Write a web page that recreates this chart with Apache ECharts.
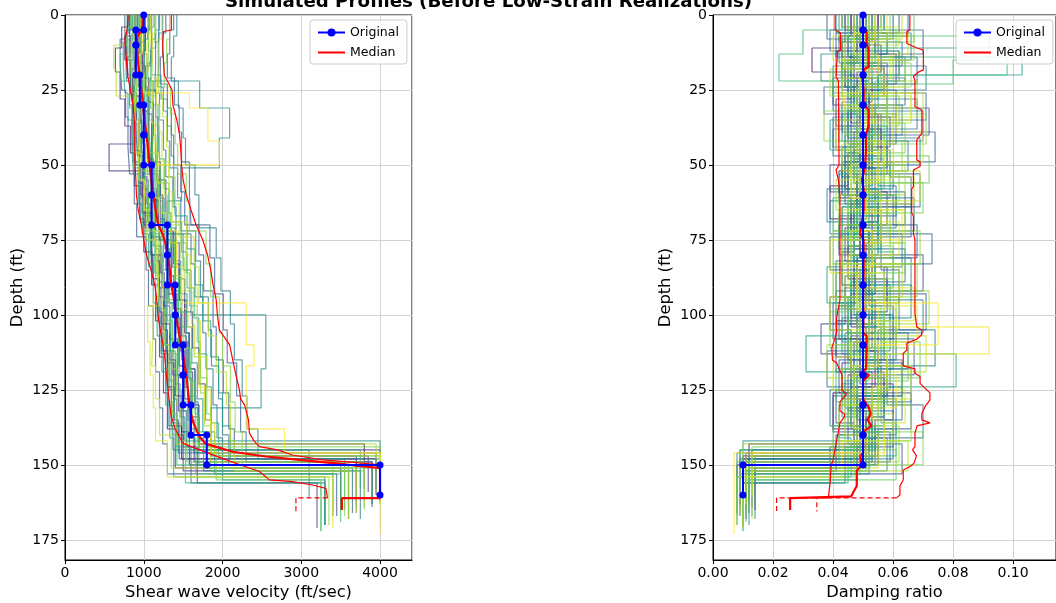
<!DOCTYPE html>
<html><head><meta charset="utf-8">
<script src="https://cdn.jsdelivr.net/npm/echarts@6/dist/echarts.min.js"></script>
<style>html,body{margin:0;padding:0;background:#fff}#c{width:1056px;height:603px}</style>
</head><body><div id="c"></div>
<script>
// ---------------- DATA ----------------
const titleText = 'Simulated Profiles (Before Low-Strain Realizations)';
const depthTicks = [0, 25, 50, 75, 100, 125, 150, 175];

// Original profile (layer tops/bottoms, Vs, damping)
const origTop = [0,5,10,20,30,40,50,60,70,80,90,100,110,120,130,140,150];
const origBot = [5,10,20,30,40,50,60,70,80,90,100,110,120,130,140,150,160];
const origVs  = [1000,900,900,950,1000,1000,1100,1100,1300,1300,1400,1400,1500,1500,1600,1800,4000];
const origDamp = [0.05,0.05,0.05,0.05,0.05,0.05,0.05,0.05,0.05,0.05,0.05,0.05,0.05,0.05,0.05,0.05,0.01];

// Realizations: layer boundaries (last = end of half-space tail), Vs, damping
const realDepths = [
 [0,7,15,24,33,45,56,66,77,88,99,112,124,137,148,160],
 [0,5,12,21,29,38,49,60,72,83,95,106,118,130,143,158],
 [0,9,18,27,36,47,58,69,80,91,103,115,127,139,150,166],
 [0,4,11,19,28,37,46,57,68,79,90,102,114,126,138,151,165],
 [0,10,19,30,39,48,59,70,81,93,104,117,128,141,149,163],
 [0,5,13,23,32,43,53,64,75,87,98,109,121,134,145,157],
 [0,7,14,21,30,43,52,61,71,82,94,105,116,128,140,152,168],
 [0,8,17,25,34,44,55,65,76,88,99,111,123,135,147,159],
 [0,6,15,26,35,44,54,63,74,86,97,108,120,132,144,156,171],
 [0,9,16,24,33,42,51,62,72,84,95,107,119,131,143,150,162],
 [0,5,12,20,29,39,50,60,70,80,91,103,113,125,136,148,164],
 [0,7,14,22,30,40,49,58,68,78,90,101,112,124,135,146,158],
 [0,6,14,23,31,40,50,59,70,80,92,104,115,126,138,147,162],
 [0,8,16,25,34,44,53,63,74,85,97,108,119,131,143,153,167],
 [0,5,13,21,30,39,49,60,70,81,93,105,116,127,139,149,164],
 [0,7,16,24,33,43,53,64,75,85,96,108,120,132,144,156,170],
 [0,9,17,26,35,45,54,64,73,83,94,106,118,130,141,151,166],
 [0,5,12,20,28,38,47,57,67,78,89,100,112,124,135,146,160],
 [0,6,15,24,32,42,51,61,72,82,94,105,117,128,140,150,165],
 [0,8,17,25,33,42,52,62,73,84,95,106,118,129,141,152,168],
 [0,7,14,22,31,41,50,60,71,81,92,103,115,127,138,148,163],
 [0,6,13,22,30,40,49,58,69,80,90,101,113,125,137,145,161],
 [0,8,16,22,31,41,51,62,73,85,100,118,131,144,155,170],
 [0,6,13,21,31,40,50,61,71,82,93,104,116,128,139,153,167],
 [0,8,18,27,37,46,55,66,77,89,100,112,123,134,142,155],
 [0,5,11,20,28,37,47,57,67,78,90,102,114,126,137,148,165],
 [0,9,17,26,35,45,53,63,73,84,96,107,119,130,141,154,170],
 [0,6,14,23,32,41,50,60,69,80,92,103,115,127,138,150,160],
 [0,7,16,25,33,43,52,62,74,85,96,109,121,132,145,158],
 [0,4,12,22,30,39,48,58,69,79,91,101,113,124,136,147,161],
 [0,8,15,24,34,44,54,64,75,86,98,110,122,133,144,156,172],
 [0,6,14,20,29,38,49,59,70,81,92,104,116,127,139,151,163],
 [0,5,13,22,31,42,51,61,72,83,94,106,118,129,140,150,166],
 [0,7,15,23,32,42,52,62,73,84,95,106,117,129,141,153,169],
 [0,8,17,26,35,45,55,64,75,87,99,111,122,133,144,152,164],
 [0,6,13,21,30,39,48,58,68,79,90,102,113,125,137,149,167],
 [0,9,18,27,37,47,56,66,76,86,97,109,121,133,145,155,172],
 [0,5,11,19,27,36,46,56,66,77,88,99,111,122,134,144,158],
 [0,8,16,24,33,43,53,62,72,83,94,106,117,129,139,150,167],
 [0,7,15,23,32,42,52,61,72,83,95,106,118,130,142,154,170],
 [0,6,14,22,31,40,50,60,70,81,92,103,114,126,137,149,165],
 [0,4,10,18,27,36,46,55,65,76,87,98,110,121,133,143,159],
 [0,8,17,26,34,44,54,63,74,84,96,107,119,130,142,152,168],
 [0,7,15,24,33,43,52,62,72,83,94,105,117,128,140,151,166],
 [0,6,13,21,30,39,49,59,69,80,91,102,114,125,136,147,163],
 [0,9,18,26,35,45,55,65,75,86,97,109,120,131,142,154,171],
 [0,9,18,27,36,46,56,66,76,87,98,104,113,124,135,146,160],
 [0,6,13,20,26,31,42,50,61,72,84,96,110,117,138,146,173]
];
const realVs = [
 [820,760,830,860,880,940,980,1100,1120,1200,1230,1300,1350,1480,3950],
 [1080,1020,990,1060,1120,1100,1210,1240,1380,1450,1520,1580,1650,1700,3800],
 [900,880,850,960,930,1000,1050,1090,1230,1270,1330,1400,1480,1580,3700],
 [800,720,640,700,760,830,880,950,1000,1100,1150,1200,1250,1300,1400,3500],
 [960,900,970,1020,1050,1120,1150,1300,1310,1420,1450,1520,1580,1640,3900],
 [1000,950,980,1000,1060,1080,1180,1200,1350,1380,1470,1560,1600,1700,4000],
 [880,830,790,860,900,560,980,1020,1150,1200,1250,1300,1380,1420,1500,3600],
 [1100,1080,1020,1150,1180,1160,1280,1300,1450,1520,1620,1700,1780,1850,3850],
 [920,870,830,910,970,990,1040,1080,1210,1260,1330,1370,1440,1500,1680,3200],
 [1020,960,1000,1050,1100,1080,1150,1210,1360,1400,1480,1540,1620,1690,1800,4000],
 [840,780,800,850,880,900,960,1000,1100,1180,1220,1280,1320,1380,1450,3700],
 [970,910,940,990,1010,1060,1120,1160,1270,1330,1400,1460,1520,1560,1640,3950],
 [1280,1240,1210,1300,1350,1380,1470,1520,1700,1760,1880,1920,2010,2080,2150,3700],
 [760,700,720,770,800,820,880,910,1030,1060,1120,1150,1200,1240,1300,3450],
 [1380,1330,1300,1390,1450,1480,1580,1600,1840,1900,2010,2060,2180,2230,2300,3900],
 [950,900,930,970,1010,1020,1100,1130,1280,1320,1400,1430,1500,1540,1600,3300],
 [1190,1150,1140,1200,1250,1280,1370,1410,1600,1650,1750,1790,1880,1930,2000,3650],
 [860,820,830,870,900,920,990,1020,1150,1190,1260,1290,1350,1390,1440,4000],
 [1240,1190,1180,1250,1300,1330,1430,1470,1660,1720,1820,1860,1950,2000,2080,3500],
 [1050,1010,1020,1060,1100,1120,1210,1240,1410,1450,1540,1570,1650,1690,1760,3750],
 [1420,1380,1350,1440,1500,1530,1650,1700,1920,1980,2100,2150,2250,2310,2450,4000],
 [810,770,780,820,850,870,940,960,1090,1120,1190,1220,1280,1310,1370,3100],
 [1150,1100,1050,1710,2090,1960,1480,1300,1500,1600,2550,2490,1850,2000,3300],
 [1060,1000,1040,1080,1120,1150,1200,1260,1400,1470,1550,1610,1680,1750,1900,3400],
 [890,850,880,940,960,1010,1060,1120,1230,1290,1340,1400,1460,1520,4000],
 [1200,1150,1100,1220,1300,1350,1380,1400,1550,1650,1750,1850,1950,2000,2100,3550],
 [790,740,760,800,850,870,930,980,1060,1120,1170,1230,1280,1330,1380,3300],
 [990,930,960,1010,1040,1070,1130,1170,1310,1350,1440,1480,1560,1600,1700,4000],
 [930,890,910,970,990,1020,1090,1110,1250,1300,1360,1450,1500,1580,3750],
 [1130,1060,1090,1120,1180,1200,1260,1320,1480,1550,1640,1700,1800,1860,1950,4000],
 [860,800,840,880,900,930,1000,1030,1140,1190,1260,1330,1380,1420,1530,3250],
 [1010,970,940,1030,1070,1090,1170,1200,1340,1400,1480,1530,1600,1660,1800,3900],
 [830,790,700,820,870,880,940,990,1080,1150,1200,1250,1310,1360,1420,3600],
 [950,920,900,980,1010,1050,1100,1140,1290,1320,1410,1440,1510,1560,1660,3500],
 [1050,1000,980,1070,1110,1130,1190,1230,1390,1440,1530,1590,1650,1700,1850,3800],
 [880,850,820,900,950,970,1020,1060,1190,1230,1300,1370,1420,1480,1550,3400],
 [1140,1100,1090,1150,1200,1220,1320,1350,1540,1580,1680,1720,1800,1850,1920,3250],
 [1000,960,960,1010,1050,1070,1160,1190,1340,1390,1470,1500,1580,1620,1690,4000],
 [1330,1290,1260,1340,1400,1430,1540,1580,1790,1850,1960,2000,2100,2160,2250,3550],
 [900,870,870,910,950,970,1050,1070,1220,1250,1330,1360,1420,1460,1530,3350],
 [1090,1060,1050,1110,1150,1170,1260,1300,1470,1520,1610,1640,1720,1770,1850,3800],
 [840,790,620,650,880,900,970,1000,1130,1160,1230,1260,1320,1360,1410,3950],
 [1230,1180,1190,1240,1290,1320,1400,1450,1640,1700,1820,1920,2050,2100,2150,3600],
 [960,920,910,970,1000,1030,1080,1120,1150,1180,1120,1100,1150,1200,1350,3700],
 [1150,1110,1100,1160,1200,1230,1320,1360,1540,1590,1680,1720,1800,1850,1900,4000],
 [870,840,850,890,930,940,1010,1040,1180,1200,1050,1080,1120,1150,1300,3400],
 [1090,1040,1060,1100,1140,1180,1230,1280,1420,1480,1560,1650,1700,1770,1850,4000],
 [1050,980,950,1000,1580,1815,1960,1150,1200,1420,1500,2300,2400,2300,2785,4000]
];
const realDamp = [
 [0.046,0.052,0.044,0.049,0.055,0.047,0.050,0.053,0.045,0.051,0.048,0.054,0.046,0.050,0.010],
 [0.055,0.050,0.047,0.053,0.049,0.056,0.051,0.046,0.052,0.048,0.054,0.050,0.047,0.053,0.012],
 [0.050,0.043,0.057,0.046,0.052,0.044,0.055,0.049,0.047,0.053,0.045,0.058,0.048,0.051,0.008],
 [0.043,0.049,0.033,0.046,0.041,0.050,0.045,0.039,0.047,0.043,0.050,0.041,0.046,0.040,0.048,0.014],
 [0.051,0.056,0.048,0.053,0.047,0.052,0.058,0.049,0.054,0.046,0.051,0.056,0.049,0.053,0.009],
 [0.049,0.054,0.061,0.050,0.045,0.053,0.048,0.055,0.050,0.044,0.052,0.047,0.057,0.051,0.013],
 [0.047,0.043,0.050,0.040,0.046,0.052,0.042,0.048,0.044,0.051,0.039,0.046,0.043,0.049,0.041,0.011],
 [0.055,0.050,0.057,0.052,0.059,0.053,0.048,0.056,0.051,0.058,0.053,0.049,0.060,0.054,0.010],
 [0.046,0.051,0.045,0.052,0.048,0.043,0.050,0.046,0.053,0.047,0.042,0.049,0.045,0.051,0.039,0.010],
 [0.053,0.048,0.044,0.051,0.056,0.049,0.054,0.047,0.052,0.058,0.050,0.046,0.053,0.049,0.055,0.012],
 [0.044,0.048,0.041,0.047,0.043,0.050,0.045,0.049,0.042,0.048,0.044,0.036,0.046,0.041,0.047,0.009],
 [0.050,0.045,0.052,0.048,0.054,0.049,0.044,0.051,0.047,0.053,0.046,0.050,0.055,0.048,0.052,0.011],
 [0.062,0.041,0.068,0.047,0.072,0.053,0.039,0.064,0.045,0.070,0.050,0.061,0.042,0.066,0.055,0.011],
 [0.038,0.055,0.043,0.061,0.040,0.058,0.044,0.066,0.039,0.052,0.060,0.041,0.057,0.045,0.063,0.009],
 [0.057,0.070,0.046,0.064,0.052,0.074,0.043,0.060,0.068,0.048,0.071,0.055,0.063,0.040,0.059,0.013],
 [0.065,0.042,0.058,0.037,0.061,0.046,0.069,0.043,0.056,0.062,0.040,0.067,0.048,0.060,0.044,0.010],
 [0.044,0.063,0.050,0.071,0.041,0.059,0.066,0.047,0.073,0.052,0.045,0.065,0.058,0.070,0.049,0.012],
 [0.053,0.039,0.062,0.045,0.068,0.040,0.055,0.061,0.042,0.064,0.047,0.059,0.038,0.063,0.051,0.008],
 [0.048,0.066,0.055,0.040,0.070,0.058,0.045,0.067,0.053,0.041,0.062,0.074,0.047,0.061,0.054,0.011],
 [0.060,0.046,0.071,0.050,0.043,0.065,0.052,0.039,0.063,0.057,0.070,0.044,0.066,0.049,0.058,0.014],
 [0.052,0.045,0.064,0.058,0.048,0.069,0.043,0.061,0.050,0.066,0.041,0.057,0.063,0.046,0.060,0.012],
 [0.041,0.058,0.036,0.052,0.063,0.044,0.060,0.038,0.055,0.047,0.066,0.043,0.059,0.039,0.054,0.009],
 [0.048,0.054,0.046,0.051,0.045,0.050,0.056,0.047,0.052,0.049,0.060,0.044,0.053,0.048,0.012],
 [0.054,0.058,0.050,0.055,0.049,0.053,0.059,0.052,0.047,0.054,0.050,0.056,0.051,0.057,0.052,0.013],
 [0.047,0.052,0.046,0.050,0.044,0.049,0.053,0.045,0.050,0.046,0.052,0.047,0.043,0.049,0.010],
 [0.057,0.052,0.103,0.055,0.050,0.058,0.053,0.049,0.056,0.052,0.059,0.054,0.050,0.057,0.053,0.012],
 [0.042,0.047,0.040,0.045,0.039,0.046,0.042,0.048,0.043,0.038,0.045,0.031,0.047,0.042,0.046,0.008],
 [0.051,0.047,0.053,0.049,0.045,0.052,0.048,0.054,0.050,0.046,0.053,0.049,0.055,0.050,0.047,0.011],
 [0.049,0.044,0.051,0.047,0.053,0.046,0.050,0.045,0.052,0.048,0.043,0.050,0.046,0.052,0.009],
 [0.056,0.051,0.062,0.054,0.058,0.052,0.057,0.050,0.055,0.060,0.053,0.057,0.081,0.056,0.061,0.014],
 [0.045,0.050,0.043,0.048,0.052,0.044,0.049,0.043,0.050,0.046,0.041,0.048,0.044,0.050,0.045,0.010],
 [0.052,0.048,0.098,0.050,0.047,0.053,0.049,0.055,0.046,0.051,0.048,0.054,0.050,0.047,0.052,0.012],
 [0.043,0.030,0.022,0.046,0.042,0.048,0.044,0.040,0.047,0.043,0.049,0.045,0.041,0.047,0.042,0.009],
 [0.050,0.092,0.080,0.049,0.054,0.047,0.052,0.048,0.053,0.049,0.045,0.051,0.047,0.053,0.049,0.011],
 [0.053,0.049,0.056,0.051,0.057,0.050,0.055,0.048,0.054,0.050,0.057,0.052,0.048,0.055,0.051,0.010],
 [0.047,0.051,0.045,0.049,0.044,0.050,0.046,0.052,0.047,0.043,0.049,0.045,0.051,0.046,0.040,0.008],
 [0.067,0.049,0.043,0.062,0.055,0.072,0.046,0.059,0.064,0.041,0.056,0.069,0.050,0.044,0.061,0.010],
 [0.045,0.061,0.053,0.040,0.058,0.064,0.047,0.070,0.042,0.060,0.051,0.039,0.065,0.055,0.048,0.013],
 [0.059,0.043,0.066,0.049,0.071,0.045,0.062,0.054,0.040,0.068,0.057,0.046,0.063,0.052,0.070,0.011],
 [0.049,0.067,0.044,0.058,0.037,0.063,0.052,0.045,0.069,0.040,0.061,0.054,0.043,0.066,0.047,0.008],
 [0.056,0.047,0.060,0.068,0.044,0.057,0.064,0.042,0.059,0.053,0.072,0.048,0.058,0.045,0.062,0.012],
 [0.043,0.062,0.051,0.039,0.066,0.048,0.057,0.041,0.064,0.050,0.044,0.061,0.038,0.055,0.060,0.010],
 [0.063,0.050,0.041,0.070,0.054,0.046,0.067,0.058,0.043,0.062,0.049,0.071,0.056,0.042,0.065,0.013],
 [0.054,0.040,0.064,0.048,0.060,0.043,0.069,0.051,0.046,0.063,0.039,0.058,0.066,0.044,0.055,0.009],
 [0.047,0.065,0.059,0.043,0.061,0.070,0.049,0.056,0.062,0.045,0.067,0.052,0.040,0.064,0.057,0.011],
 [0.058,0.044,0.052,0.066,0.041,0.060,0.047,0.063,0.039,0.057,0.068,0.046,0.061,0.050,0.043,0.010],
 [0.054,0.050,0.057,0.053,0.049,0.055,0.051,0.056,0.052,0.048,0.055,0.092,0.058,0.053,0.057,0.013],
 [0.052,0.047,0.055,0.049,0.044,0.051,0.057,0.046,0.050,0.053,0.048,0.075,0.055,0.047,0.051,0.007]
];

// Median and percentile curves (depth, value)
const medVsD = [0,3,5,7,10,15,20,25,30,35,40,45,50,55,60,65,70,73,76,80,85,90,95,100,105,110,115,120,125,130,133,136,139,141,143,145.6,147.2,148.3,149.4,150.6,151.1,161.1,161.1,165];
const medVsV = [995,990,975,920,915,925,945,970,990,1010,1035,1055,1075,1095,1120,1150,1185,1240,1275,1305,1330,1350,1385,1410,1440,1475,1510,1540,1560,1580,1600,1630,1680,1720,1790,2130,2550,2975,3400,3820,4000,4000,3515,3515];
const hiVsD = [0,5,5.5,10,20,22,25,30,35,40,45,50,55,60,65,70,75,80,85,90,95,100,105,110,115,120,125,128,130,135,139.4,142,143.9,145,146.7,148.3,149,150,161];
const hiVsV = [1350,1350,1250,1240,1260,1300,1360,1370,1420,1455,1470,1480,1500,1540,1600,1665,1750,1810,1850,1880,1920,1935,1960,2090,2130,2170,2215,2230,2280,2330,2342,2400,2468,2700,2886,3270,3600,4000,4000];
const loVsD = [0,5,8,12,20,25,30,35,40,45,50,55,60,65,70,75,80,85,90,95,100,105,110,115,120,125,130,134,138,142.8,145,148.3,152.2,155,155.6,156.7,157.8,161];
const loVsV = [800,790,760,770,795,830,865,880,886,886,890,900,907,930,970,1000,1035,1090,1140,1165,1180,1210,1245,1270,1287,1308,1330,1350,1400,1498,1709,2046,2468,2595,2890,3143,3312,3333];
const tailVsD = [161,161,165.5];
const tailVsV = [3333,2932,2932];

const medDampD = [0,5,5.5,9.5,11.7,17.2,18,20.5,25,29.4,31.7,37,40,45,50.5,55,58,65,70,72.8,75,85,95,100,106,107,109,111,118,119,120,122,128,131,133,135,137,139,146,147,150,152,157,159,160.5,161.1,161.1,165];
const medDampV = [0.0499,0.0499,0.0512,0.0512,0.0518,0.0518,0.0505,0.0497,0.0502,0.0502,0.0518,0.0518,0.0510,0.0510,0.0507,0.0496,0.0502,0.0502,0.0495,0.0490,0.0502,0.0502,0.0500,0.0502,0.0500,0.0512,0.0512,0.0512,0.0510,0.0495,0.0520,0.0500,0.0500,0.0520,0.0525,0.0515,0.0528,0.0500,0.0500,0.0491,0.0495,0.0479,0.0479,0.0468,0.0460,0.0457,0.0257,0.0257];
const loDampD = [0,5,6,11.7,12,20.5,22,50,51.7,55,60,95,101,106,111,115,116,120,125,126.5,129,132,133,134,136,139,145,148.5,150,156,160.5,161];
const loDampV = [0.0407,0.0407,0.0425,0.0425,0.0415,0.0410,0.0418,0.0420,0.0410,0.0418,0.0423,0.0423,0.0412,0.0412,0.0396,0.0398,0.0412,0.0430,0.0430,0.0444,0.0423,0.0423,0.0438,0.0438,0.0423,0.0418,0.0406,0.0400,0.0394,0.0390,0.0385,0.0385];
const hiDampD = [0,5,5.5,9.5,11,11.7,18.3,19,20.5,21.7,30.5,31.7,39.4,41.7,48.3,49,50.5,51.7,57.2,58,66,67,72.8,75,99.4,100,104,105,106.5,108,109.4,111.7,112.8,117,118,119.4,120.5,122.8,123.9,126,128.3,130.5,132.8,135,136,137,139.4,143.9,145,147,149.4,150.5,151.7,155,157,160,161];
const hiDampV = [0.0656,0.0656,0.0646,0.0646,0.0680,0.0701,0.0701,0.0685,0.0668,0.0673,0.0673,0.0696,0.0696,0.0679,0.0679,0.0690,0.0690,0.0668,0.0668,0.0662,0.0662,0.0668,0.0668,0.0673,0.0673,0.0679,0.0679,0.0696,0.0696,0.0680,0.0646,0.0646,0.0634,0.0634,0.0673,0.0673,0.0690,0.0690,0.0701,0.0723,0.0723,0.0707,0.0696,0.0696,0.0723,0.0680,0.0673,0.0673,0.0665,0.0678,0.0670,0.0657,0.0634,0.0634,0.0623,0.0623,0.0612];
const tailDampAD = [161,161,165.5];
const tailDampAV = [0.0612,0.0212,0.0212];
const tailDampBD = [161,161,165.5];
const tailDampBV = [0.0385,0.0346,0.0346];

// ---------------- BUILD ----------------
const FONT = 'DejaVu Sans';
const VIR = ['#440154','#482878','#3e4989','#31688e','#26828e','#1f9e89','#35b779','#6ece58','#b5de2b','#fde725'];
function hex2rgb(h){return [parseInt(h.slice(1,3),16),parseInt(h.slice(3,5),16),parseInt(h.slice(5,7),16)];}
function vir(t){const p=t*(VIR.length-1);const i=Math.min(VIR.length-2,Math.floor(p));const f=p-i;const a=hex2rgb(VIR[i]),b=hex2rgb(VIR[i+1]);return 'rgb('+a.map((x,k)=>Math.round(x+(b[k]-x)*f)).join(',')+')';}
function stepPts(top, bot, v){const p=[];for(let i=0;i<v.length;i++){p.push([v[i],top[i]]);p.push([v[i],bot[i]]);}return p;}
function stepReal(d, v){const p=[];for(let i=0;i<v.length;i++){p.push([v[i],d[i]]);p.push([v[i],d[i+1]]);}return p;}
function zip(d, v){return d.map((y,i)=>[v[i],y]);}

const series = [];
const N = realVs.length;
for (let k=0;k<2;k++){
  const vals = k===0 ? realVs : realDamp;
  for (let i=0;i<N;i++){
    series.push({type:'line', xAxisIndex:k, yAxisIndex:k, data: stepReal(realDepths[i], vals[i]),
      symbol:'none', silent:true, z:1,
      lineStyle:{color:vir(i/(N-1)), width:1.2, opacity:0.72}});
  }
}
function redLine(k, name, d, v, w, dashed){
  series.push({type:'line', name:name, xAxisIndex:k, yAxisIndex:k, data: zip(d,v), symbol:'none', z:3,
    itemStyle:{color:'#ff0000'}, lineStyle:{color:'#ff0000', width:w, type: dashed?[5,3]:'solid'}});
}
redLine(0,'p84',hiVsD,hiVsV,1.2,false);
redLine(0,'p16',loVsD,loVsV,1.2,false);
redLine(0,'t1',tailVsD,tailVsV,1.2,true);
redLine(1,'p84',hiDampD,hiDampV,1.2,false);
redLine(1,'p16',loDampD,loDampV,1.2,false);
redLine(1,'t1',tailDampAD,tailDampAV,1.2,true);
redLine(1,'t2',tailDampBD,tailDampBV,1.2,true);
redLine(0,'Median',medVsD,medVsV,2.2,false);
redLine(1,'Median',medDampD,medDampV,2.2,false);
[origVs, origDamp].forEach((v,k)=>{
  series.push({type:'line', name:'Original', xAxisIndex:k, yAxisIndex:k, data: stepPts(origTop, origBot, v),
    symbol:'circle', symbolSize:7, showSymbol:true, showAllSymbol:true, z:4,
    itemStyle:{color:'#0000ff'}, lineStyle:{color:'#0000ff', width:2}});
});

const axisCommon = {
  axisLine:{show:true, onZero:false, lineStyle:{color:'#000', width:1}},
  axisTick:{show:true, length:4, lineStyle:{color:'#000'}},
  splitLine:{show:true, lineStyle:{color:'#d3d3d3', width:1}},
  nameTextStyle:{fontFamily:FONT, fontSize:16.3, color:'#000'}
};
function xAx(k, max, name, fmt){
  return Object.assign({}, axisCommon, {type:'value', gridIndex:k, min:0, max:max, interval: k===0?1000:0.02,
    name:name, nameLocation:'middle', nameGap:24,
    axisLabel:{fontFamily:FONT, fontSize:14, color:'#000', margin:6, showMaxLabel:false, formatter:fmt}});
}
function yAx(k){
  return Object.assign({}, axisCommon, {type:'value', gridIndex:k, min:0, max:181.7, interval:25, inverse:true,
    name:'Depth (ft)', nameLocation:'middle', nameGap:39, nameRotate:90,
    axisLabel:{fontFamily:FONT, fontSize:14, color:'#000', margin:6, showMaxLabel:false}});
}
const LINE_ICON = 'path://M0,0 L27,0 L27,2 L0,2 Z';
function legendAt(left){
  return {data:['Original', {name:'Median', icon:LINE_ICON}], left:left, top:20, orient:'vertical',
    itemWidth:27, itemHeight:10, itemGap:7,
    backgroundColor:'rgba(255,255,255,0.85)', borderColor:'#cccccc', borderWidth:1, borderRadius:3, padding:[6,8,5,7],
    textStyle:{fontFamily:FONT, fontSize:12.5, color:'#000'}, selectedMode:false};
}
const option = {
  animation:false,
  backgroundColor:'#fff',
  title:{text:titleText, left:220, top:-12, textStyle:{fontFamily:FONT, fontSize:18.2, fontWeight:'bold', color:'#000'}},
  grid:[
    {left:65, top:15, width:347, height:545, show:true, borderColor:'#000', borderWidth:1, backgroundColor:'transparent', outerBoundsMode:'none', containLabel:false},
    {left:713, top:15, width:343, height:545, show:true, borderColor:'#000', borderWidth:1, backgroundColor:'transparent', outerBoundsMode:'none', containLabel:false}
  ],
  xAxis:[ xAx(0, 4406, 'Shear wave velocity (ft/sec)', v=>String(v)),
          xAx(1, 0.1143, 'Damping ratio', v=>v.toFixed(2)) ],
  yAxis:[ yAx(0), yAx(1) ],
  legend:[ legendAt(310), legendAt(956) ],
  series: series
};
const chart = echarts.init(document.getElementById('c'), null, {renderer:'canvas'});
chart.setOption(option);
</script></body></html>
